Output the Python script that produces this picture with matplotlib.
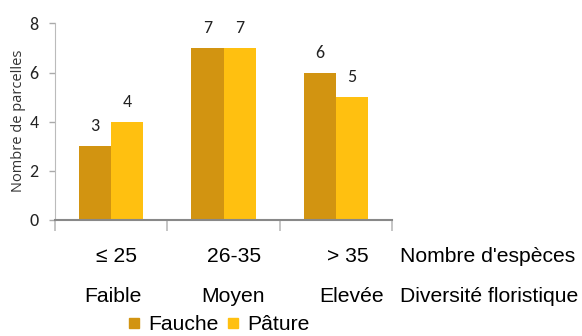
import matplotlib
matplotlib.use("Agg")
import matplotlib.pyplot as plt
import numpy as np
from matplotlib.lines import Line2D
import logging
logging.getLogger("matplotlib.font_manager").setLevel(logging.ERROR)

categories = ["≤ 25", "26-35", "> 35"]
levels = ["Faible", "Moyen", "Elevée"]
series_names = ["Fauche", "Pâture"]
fauche = [3, 7, 6]
paturage = [4, 7, 5]
yticks = [0, 2, 4, 6, 8]
row_titles = ["Nombre d'espèces", "Diversité floristique"]
ylabel = "Nombre de parcelles"

colors = ["#D29411", "#FFC010"]
num_family = ["Carlito", "Lato", "DejaVu Sans"]
txt_family = ["Liberation Sans", "DejaVu Sans"]

W, H = 582, 336
fig = plt.figure(figsize=(W / 100, H / 100), dpi=100)
ax = fig.add_axes([55 / W, 1 - 220 / H, (392 - 55) / W, (220 - 23.4) / H])

x = np.arange(len(categories))
bw = 0.286
b1 = ax.bar(x - bw / 2, fauche, bw, color=colors[0])
b2 = ax.bar(x + bw / 2, paturage, bw, color=colors[1])

lab_font = dict(family=num_family, fontsize=13, color="#222222")
for bars, vals in ((b1, fauche), (b2, paturage)):
    for r, v in zip(bars, vals):
        ax.annotate(str(v), (r.get_x() + r.get_width() / 2, v), xytext=(0, 8.5),
                    textcoords="offset points", ha="center", va="bottom", **lab_font)

ax.set_xlim(-0.5, 2.5)
ax.set_ylim(0, 8)
ax.set_yticks(yticks)
ax.set_yticklabels([str(t) for t in yticks], family=num_family, fontsize=13, color="#222222")
ax.set_xticks([-0.5, 0.5, 1.5, 2.5])
ax.set_xticklabels([])
ax.tick_params(axis="x", length=8, color="#BBBBBB", width=1.2)
ax.tick_params(axis="y", length=4, color="#AAAAAA", width=1, pad=8)
for s in ("top", "right"):
    ax.spines[s].set_visible(False)
ax.spines["left"].set_color("#BBBBBB")
ax.spines["bottom"].set_color("#888888")
ax.spines["bottom"].set_linewidth(1.5)

ax.set_ylabel(ylabel, family=["Open Sans", "DejaVu Sans"], fontsize=10.5, va="center", color="#333333")
ax.yaxis.set_label_coords(-(55 - 19) / (392 - 55), (220 - 121) / (220 - 23.4))

# category rows
cat_px = [116, 234, 348]
lev_px = [113, 233, 352]
fs = 15.2
for c, px in zip(categories, cat_px):
    fig.text(px / W, 1 - 256 / H, c, ha="center", va="center", family=txt_family, fontsize=fs)
for l, px in zip(levels, lev_px):
    fig.text(px / W, 1 - 296 / H, l, ha="center", va="center", family=txt_family, fontsize=fs)
fig.text(400 / W, 1 - 256 / H, row_titles[0], ha="left", va="center", family=txt_family, fontsize=fs)
fig.text(400 / W, 1 - 296 / H, row_titles[1], ha="left", va="center", family=txt_family, fontsize=fs)

handles = [Line2D([], [], marker="s", linestyle="none", color=c, markersize=6.5) for c in colors]
fig.legend(handles, series_names, loc="center", bbox_to_anchor=(218 / W, 1 - 325 / H), ncol=2,
           frameon=False, handlelength=0.7, handletextpad=0.35, columnspacing=0.3,
           prop=dict(family=txt_family, size=fs), borderaxespad=0, borderpad=0)

fig.savefig("out.png", dpi=100)
